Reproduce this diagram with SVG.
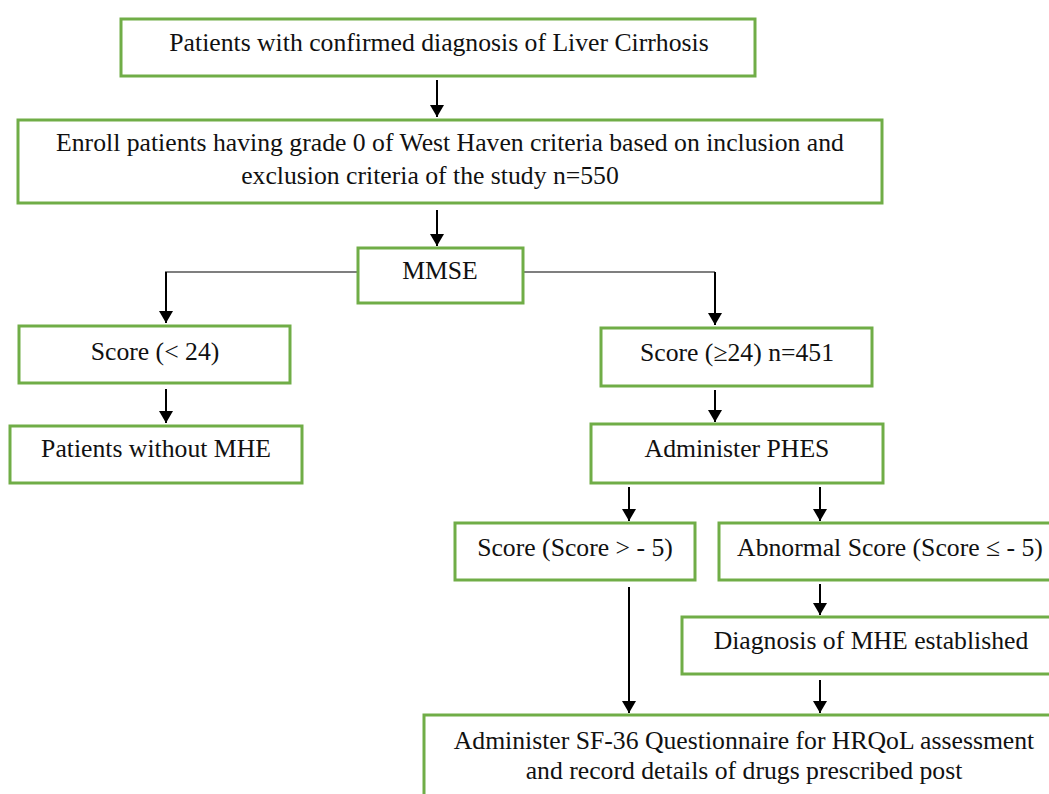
<svg xmlns="http://www.w3.org/2000/svg" width="1049" height="794" viewBox="0 0 1049 794">
<style>
.box{fill:#fff;stroke:#70AD47;stroke-width:3}
text{font-family:'Liberation Serif','Times New Roman',serif;font-size:25.7px;fill:#111;text-anchor:middle}
.arr{stroke:#000;stroke-width:2;fill:none;marker-end:url(#ah)}
.ln{stroke:#7f7f7f;stroke-width:2;fill:none}
</style>
<defs>
<marker id="ah" viewBox="0 0 12 14" refX="12" refY="7" markerWidth="12" markerHeight="14" markerUnits="userSpaceOnUse" orient="auto">
<path d="M0,0 L12,7 L0,14 Z" fill="#000"/>
</marker>
</defs>
<rect width="1049" height="794" fill="#fff"/>
<g id="connectors">
<line class="arr" x1="437" y1="80" x2="437" y2="117"/>
<line class="arr" x1="437" y1="210" x2="437" y2="246"/>
<polyline class="ln" points="358,272 165,272"/>
<polyline class="ln" points="523,272 715,272"/>
<line class="arr" x1="166" y1="272" x2="166" y2="323"/>
<line class="arr" x1="715" y1="272" x2="715" y2="325"/>
<line class="arr" x1="166" y1="389" x2="166" y2="423"/>
<line class="arr" x1="715" y1="390" x2="715" y2="422"/>
<line class="arr" x1="629" y1="487" x2="629" y2="521"/>
<line class="arr" x1="820" y1="487" x2="820" y2="521"/>
<line class="arr" x1="820" y1="584" x2="820" y2="615"/>
<line class="arr" x1="629" y1="587" x2="629" y2="713"/>
<line class="arr" x1="820" y1="680" x2="820" y2="713"/>
</g>
<g id="n1"><rect class="box" x="121" y="19" width="634" height="57"/><text x="439" y="51">Patients with confirmed diagnosis of Liver Cirrhosis</text></g>
<g id="n2"><rect class="box" x="18" y="120" width="864" height="83"/><text x="450" y="151">Enroll patients having grade 0 of West Haven criteria based on inclusion and</text><text x="430" y="184">exclusion criteria of the study n=550</text></g>
<g id="n3"><rect class="box" x="358" y="248" width="165" height="55"/><text x="440" y="279">MMSE</text></g>
<g id="n4"><rect class="box" x="19" y="326" width="271" height="57"/><text x="155" y="360">Score (&lt; 24)</text></g>
<g id="n5"><rect class="box" x="10" y="426" width="292" height="57"/><text x="156" y="457">Patients without MHE</text></g>
<g id="n6"><rect class="box" x="601" y="328" width="271" height="58"/><text x="737" y="361">Score (≥24) n=451</text></g>
<g id="n7"><rect class="box" x="591" y="424" width="292" height="59"/><text x="737" y="457">Administer PHES</text></g>
<g id="n8"><rect class="box" x="455" y="523" width="240" height="57"/><text x="575" y="556">Score (Score &gt; - 5)</text></g>
<g id="n9"><rect class="box" x="719" y="523" width="340" height="57"/><text x="890" y="556">Abnormal Score (Score ≤ - 5)</text></g>
<g id="n10"><rect class="box" x="682" y="617" width="380" height="57"/><text x="871" y="649">Diagnosis of MHE established</text></g>
<g id="n11"><rect class="box" x="424" y="715" width="640" height="100"/><text x="744" y="749">Administer SF-36 Questionnaire for HRQoL assessment</text><text x="744" y="779">and record details of drugs prescribed post</text></g>
</svg>
